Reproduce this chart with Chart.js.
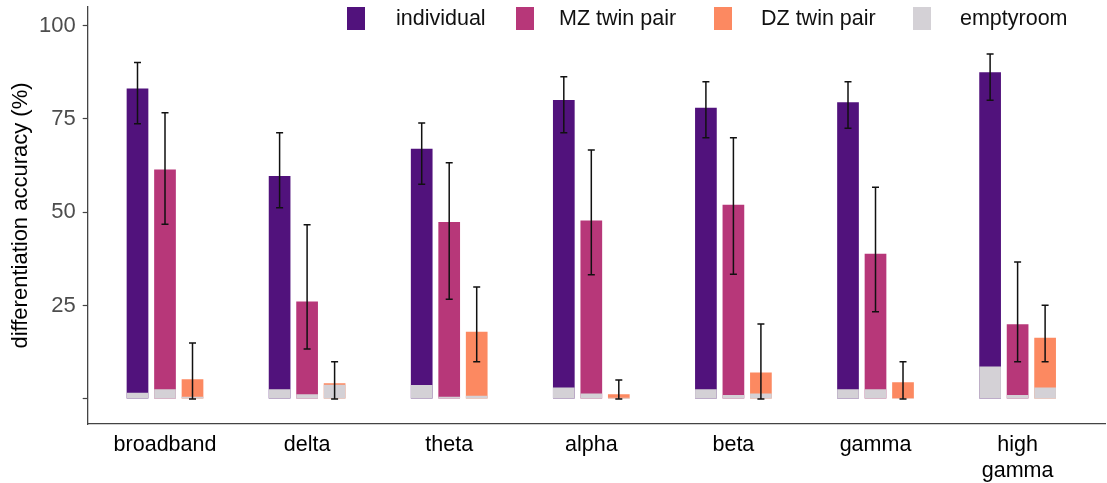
<!DOCTYPE html>
<html>
<head>
<meta charset="utf-8">
<title>Differentiation accuracy by frequency band</title>
<script src="https://cdn.jsdelivr.net/npm/chart.js@4.4.1/dist/chart.umd.min.js"></script>
<style>
  html, body { margin: 0; padding: 0; background: #ffffff; }
  #wrap { position: relative; width: 1107px; height: 483px; overflow: hidden; }
  canvas { display: block; }
  #legend { position: absolute; left: 0; top: 0; width: 1107px; height: 40px;
            font-family: "Liberation Sans", Arial, sans-serif; font-size: 21.5px; color: #111; }
  #legend .sw { position: absolute; top: 7px; width: 18px; height: 23px; }
  #legend .tx { position: absolute; top: 7px; line-height: 23px; white-space: nowrap; }
</style>
</head>
<body>
<div id="wrap">
  <canvas id="chart" width="1107" height="483"></canvas>
  <div id="legend"></div>
</div>
<script>
// Frequency bands (x categories)
const bands = ['broadband', 'delta', 'theta', 'alpha', 'beta', 'gamma', ['high', 'gamma']];

// Series names shown in the legend
const seriesNames = ['individual', 'MZ twin pair', 'DZ twin pair', 'emptyroom'];

// Mean differentiation accuracy (%) with lower / upper error bounds
const individual   = [83.2, 59.7, 67.0, 80.1, 78.0, 79.5, 87.5];
const individualLo = [73.7, 51.2, 57.5, 71.3, 70.0, 72.5, 80.0];
const individualHi = [90.1, 71.3, 73.9, 86.3, 85.0, 85.0, 92.4];

const mzPair   = [61.5, 26.1, 47.4, 47.8, 52.0, 38.9, 20.0];
const mzPairLo = [46.8, 13.4, 26.7, 33.3, 33.4, 23.4, 10.0];
const mzPairHi = [76.7, 46.7, 63.3, 66.7, 70.0, 56.7, 36.7];

const dzPair   = [5.3, 4.2, 18.0, 1.25, 7.1, 4.5, 16.4];
const dzPairLo = [0, 0, 10.0, 0, 0, 0, 10.0];
const dzPairHi = [15.0, 10.0, 30.0, 5.1, 20.1, 10.0, 25.1];

// Empty-room baseline accuracy for each comparison
const emptyIndividual = [1.7, 2.6, 3.75, 3.1, 2.6, 2.6, 8.7];
const emptyMz         = [2.6, 1.3, 0.6, 1.5, 1.1, 2.6, 1.1];
const emptyDz         = [0.6, 3.8, 0.9, 0.3, 1.5, 0.2, 3.1];

// Y axis tick values
const yTicks = [0, 25, 50, 75, 100];

// ---- styling ----
const COLORS = ['#51127c', '#b73779', '#fc8961', '#d4d1d6'];
const FONT = '"Liberation Sans", Arial, sans-serif';
const AXIS_COLOR = '#444444';

const toPoints = arr => arr.map((v, i) => ({ x: i, y: v }));

const barOpts = { categoryPercentage: 0.5806, barPercentage: 0.789, borderWidth: 0 };

// Each comparison has its own slot ("stack" id); the empty-room bar shares the
// slot of its comparison and is painted over the bottom of the coloured bar.
const datasets = [
  { label: 'emptyroom individual', data: toPoints(emptyIndividual), backgroundColor: COLORS[3], stack: 'ind', order: 0, ...barOpts },
  { label: 'emptyroom MZ', data: toPoints(emptyMz), backgroundColor: COLORS[3], stack: 'mz', order: 0, ...barOpts },
  { label: 'emptyroom DZ', data: toPoints(emptyDz), backgroundColor: COLORS[3], stack: 'dz', order: 0, ...barOpts },
  { label: seriesNames[0], data: toPoints(individual), errLo: individualLo, errHi: individualHi,
    backgroundColor: COLORS[0], stack: 'ind', order: 1, ...barOpts },
  { label: seriesNames[1], data: toPoints(mzPair), errLo: mzPairLo, errHi: mzPairHi,
    backgroundColor: COLORS[1], stack: 'mz', order: 1, ...barOpts },
  { label: seriesNames[2], data: toPoints(dzPair), errLo: dzPairLo, errHi: dzPairHi,
    backgroundColor: COLORS[2], stack: 'dz', order: 1, ...barOpts }
];

// Error bars with end caps, drawn after all bars
const errorBars = {
  id: 'errorBars',
  afterDatasetsDraw(chart) {
    const { ctx } = chart;
    const y = chart.scales.y;
    const cap = 3.5;
    ctx.save();
    ctx.strokeStyle = '#111111';
    ctx.lineWidth = 1.5;
    chart.data.datasets.forEach((ds, di) => {
      if (!ds.errLo) return;
      const meta = chart.getDatasetMeta(di);
      meta.data.forEach((bar, j) => {
        const x = bar.x;
        const top = y.getPixelForValue(ds.errHi[j]);
        const bot = y.getPixelForValue(ds.errLo[j]);
        ctx.beginPath();
        ctx.moveTo(x, top); ctx.lineTo(x, bot);
        ctx.moveTo(x - cap, top); ctx.lineTo(x + cap, top);
        ctx.moveTo(x - cap, bot); ctx.lineTo(x + cap, bot);
        ctx.stroke();
      });
    });
    ctx.restore();
  }
};

new Chart(document.getElementById('chart'), {
  type: 'bar',
  data: { datasets },
  options: {
    responsive: false,
    animation: false,
    events: [],
    layout: { padding: { top: 7, right: 2, bottom: 0, left: 0 } },
    plugins: { legend: { display: false }, tooltip: { enabled: false } },
    scales: {
      x: {
        type: 'linear',
        offset: false,
        min: -0.544, max: 6.615,
        afterBuildTicks: s => { s.ticks = bands.map((_, i) => ({ value: i })); },
        afterFit: s => { s.height = 59; },
        grid: { display: false, offset: false },
        border: { display: true, color: AXIS_COLOR, width: 1.3 },
        ticks: {
          callback: v => bands[v],
          autoSkip: false, maxRotation: 0, minRotation: 0,
          padding: 1, color: '#000000',
          font: { family: FONT, size: 21.5, lineHeight: 1.17 }
        }
      },
      y: {
        type: 'linear',
        stacked: false,
        min: -6.7, max: 105,
        afterBuildTicks: s => { s.ticks = yTicks.map(v => ({ value: v })); },
        afterFit: s => { s.width = 87.7; s.paddingTop = 0; s.paddingBottom = 0; },
        grid: { display: true, drawOnChartArea: false, drawTicks: true, tickLength: 5,
                color: AXIS_COLOR, tickWidth: 1.2 },
        border: { display: true, color: AXIS_COLOR, width: 1.3 },
        ticks: {
          callback: v => (v === 0 ? '' : String(v)),
          padding: 7, color: '#4d4d4d',
          font: { family: FONT, size: 22 }
        },
        title: {
          display: true,
          text: 'differentiation accuracy (%)',
          color: '#000000',
          padding: { top: 8, bottom: 0 },
          font: { family: FONT, size: 22 }
        }
      }
    }
  },
  plugins: [errorBars]
});

// Legend along the top edge
const legendBoxX  = [347, 516, 714, 913];
const legendTextX = [396, 559, 761, 960];
const legend = document.getElementById('legend');
seriesNames.forEach((name, i) => {
  const sw = document.createElement('div');
  sw.className = 'sw';
  sw.style.left = legendBoxX[i] + 'px';
  sw.style.background = COLORS[i];
  const tx = document.createElement('div');
  tx.className = 'tx';
  tx.style.left = legendTextX[i] + 'px';
  tx.textContent = name;
  legend.appendChild(sw);
  legend.appendChild(tx);
});
</script>
</body>
</html>
